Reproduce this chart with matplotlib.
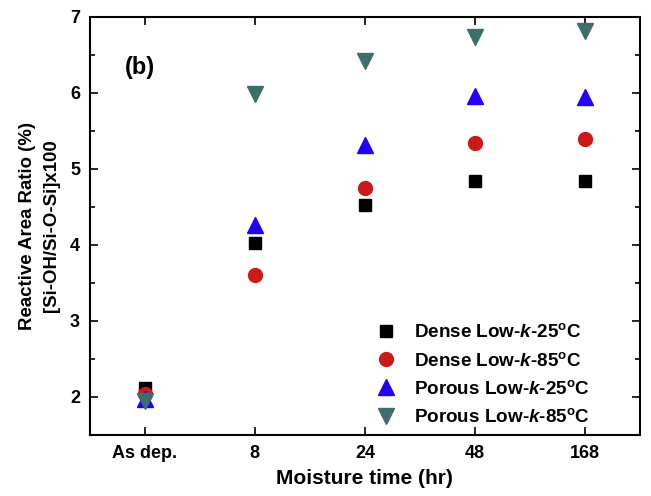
import numpy as np
import matplotlib.pyplot as plt

plt.rcParams['font.family'] = 'Liberation Sans'
plt.rcParams['font.weight'] = 'bold'
plt.rcParams['mathtext.fontset'] = 'custom'
plt.rcParams['mathtext.rm'] = 'Liberation Sans:bold'
plt.rcParams['mathtext.it'] = 'Liberation Sans:bold:italic'

# Data
times = ['As dep.', '8', '24', '48', '168']
dense_25 = [2.12, 4.03, 4.53, 4.84, 4.84]
dense_85 = [2.04, 3.60, 4.75, 5.34, 5.39]
porous_25 = [1.98, 4.26, 5.32, 5.96, 5.95]
porous_85 = [1.95, 5.98, 6.42, 6.74, 6.82]

labels = [r'Dense Low-$\mathit{k}$-25$^{\mathrm{o}}$C',
          r'Dense Low-$\mathit{k}$-85$^{\mathrm{o}}$C',
          r'Porous Low-$\mathit{k}$-25$^{\mathrm{o}}$C',
          r'Porous Low-$\mathit{k}$-85$^{\mathrm{o}}$C']

x_pos = np.arange(len(times))

fig = plt.figure(figsize=(6.51, 4.96), dpi=100)
ax = fig.add_axes([0.138, 0.123, 0.845, 0.843])

ax.plot(x_pos, dense_25, ls='none', marker='s', ms=9, color='black', label=labels[0])
ax.plot(x_pos, dense_85, ls='none', marker='o', ms=10, color='#cc1a1a', label=labels[1])
ax.plot(x_pos, porous_25, ls='none', marker='^', ms=11, color='#2200ff', label=labels[2])
ax.plot(x_pos, porous_85, ls='none', marker='v', ms=11, color='#3d6e6c', label=labels[3])

ax.set_xlim(-0.5, 4.5)
ax.set_ylim(1.5, 7)
ax.set_xticks(x_pos)
ax.set_xticklabels(times)
ax.set_yticks([2, 3, 4, 5, 6, 7])
ax.set_yticks(np.arange(1.5, 7.01, 0.5), minor=True)
ax.tick_params(which='both', direction='in', top=True, right=True, labelsize=13, width=1.2)
ax.tick_params(which='major', length=6, pad=7)
ax.tick_params(which='minor', length=3.5)
ax.tick_params(axis='x', which='minor', top=False, bottom=False)
for s in ax.spines.values():
    s.set_linewidth(1.5)

ax.set_xlabel('Moisture time (hr)', fontsize=15, fontweight='bold', labelpad=5)
ax.set_ylabel('Reactive Area Ratio (%)\n[Si-OH/Si-O-Si]x100', fontsize=13.4,
              fontweight='bold', labelpad=7, linespacing=1.6)
ax.text(0.063, 0.878, '(b)', transform=ax.transAxes, fontsize=17, fontweight='bold', va='center')

ax.legend(loc='lower right', frameon=False, fontsize=13.6, handletextpad=0.5,
          labelspacing=0.55, bbox_to_anchor=(0.94, -0.02), markerscale=1.0)

plt.savefig('out.png', dpi=100)
